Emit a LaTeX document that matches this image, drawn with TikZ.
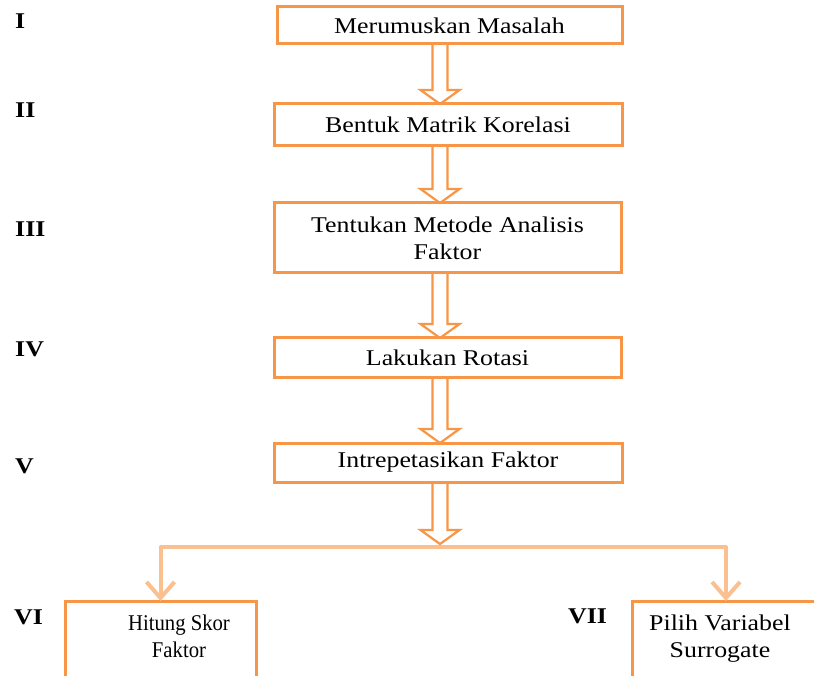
\documentclass[tikz,border=0pt]{standalone}
\usepackage{fontspec}
\setmainfont[FakeStretch=1.15]{Liberation Serif}
\usetikzlibrary{calc,arrows.meta}
\definecolor{boxorange}{RGB}{247,150,70}
\definecolor{lightorange}{RGB}{250,192,143}
\newcommand\dblarr[2]{%
  \draw[dbl] ($(#1)+(-7.5,0)$) -- ($(#2)+(-7.5,14)$) -- ($(#2)+(-19.5,14)$) -- (#2)
    -- ($(#2)+(19.5,14)$) -- ($(#2)+(7.5,14)$) -- ($(#1)+(7.5,0)$);}
\begin{document}
\begin{tikzpicture}[x=1pt,y=1pt,
  box/.style={draw=boxorange, line width=3pt, inner sep=0pt, outer sep=0pt,
    align=center, font=\fontsize{22.5}{27}\selectfont},
  txt/.style={inner sep=0pt, outer sep=0pt, align=center, font=\fontsize{22.5}{27}\selectfont},
  dbl/.style={draw=boxorange, line width=2.2pt, line join=miter},
  branch/.style={draw=lightorange, line width=4pt, line join=round},
  num/.style={font=\fontsize{22.5}{27}\selectfont\bfseries, anchor=base west, inner sep=0pt},
]
\useasboundingbox (0,0) rectangle (814,-676);
\clip (0,0) rectangle (814,-676);
\fill[white] (0,0) rectangle (814,-676);

% boxes
\node[box, minimum width=345, minimum height=37] (b1) at (449.5,-25.5) {Merumuskan Masalah};
\node[box, minimum width=348, minimum height=42] (b2) at (448,-125) {Bentuk Matrik Korelasi};
\node[box, minimum width=347, minimum height=70] (b3) at (447.5,-238) {Tentukan Metode Analisis\\Faktor};
\node[box, minimum width=347, minimum height=39] (b4) at (447.5,-357.5) {Lakukan Rotasi};
\node[box, minimum width=348, minimum height=39] (b5) at (448,-462.5) {Intrepetasikan Faktor};
\node[box, minimum width=191, minimum height=140] (b6) at (160.5,-671) {};
\node[box, minimum width=188, minimum height=140] (b7) at (726,-671) {};
\node[txt, anchor=north, xscale=0.8, transform shape] (t6) at (179,-614.6) {Hitung Skor\\Faktor};
\node[txt, anchor=north] (t7) at (720,-614.6) {Pilih Variabel\\Surrogate};

% numerals
\node[num] (n1) at (15,-29) {I};
\node[num] (n2) at (15,-118) {II};
\node[num] (n3) at (15,-237) {III};
\node[num] (n4) at (15,-356) {IV};
\node[num] (n5) at (15,-473) {V};
\node[num] (n6) at (14,-624) {VI};
\node[num] (n7) at (568,-623) {VII};

% axis of double arrows
\coordinate (ax) at (440,0);
\coordinate (s1) at (b1.south -| ax);
\coordinate (t2) at (b2.north -| ax);
\coordinate (s2) at (b2.south -| ax);
\coordinate (t3) at (b3.north -| ax);
\coordinate (s3) at (b3.south -| ax);
\coordinate (t4) at (b4.north -| ax);
\coordinate (s4) at (b4.south -| ax);
\coordinate (t5) at (b5.north -| ax);
\coordinate (s5) at (b5.south -| ax);
\coordinate (split) at (440,-547);
\coordinate (t6a) at (440,-544);

\dblarr{s1}{t2}
\dblarr{s2}{t3}
\dblarr{s3}{t4}
\dblarr{s4}{t5}

% branch
\draw[branch, -{Straight Barb[length=16pt,width=28pt]}] (split) -| (b6.north);
\draw[branch, -{Straight Barb[length=16pt,width=28pt]}] (split) -| (b7.north);
\dblarr{s5}{t6a}
\end{tikzpicture}
\end{document}
